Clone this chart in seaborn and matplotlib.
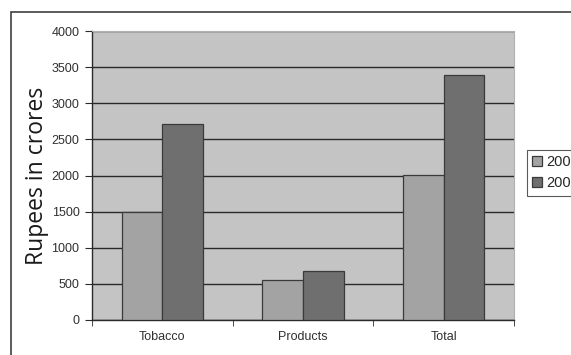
import pandas as pd
import matplotlib.pyplot as plt
import seaborn as sns
from matplotlib.patches import Rectangle

categories = ['Tobacco', 'Products', 'Total']
years = ['2007', '2008']
values_2007 = [1490, 550, 2010]
values_2008 = [2710, 680, 3390]
yticks = [0, 500, 1000, 1500, 2000, 2500, 3000, 3500, 4000]

df = pd.DataFrame({
    'category': categories * 2,
    'year': [years[0]] * 3 + [years[1]] * 3,
    'value': values_2007 + values_2008,
})

sns.set_style('white')
plt.rcParams['font.family'] = ['Liberation Sans', 'DejaVu Sans']

fig = plt.figure(figsize=(5.71, 3.55), dpi=100)
ax = fig.add_axes([92 / 571, 1 - 320 / 355, 422 / 571, 289 / 355])

# outer chart frame (cut off on the right and bottom)
fig.patches.append(Rectangle((11 / 571, -0.1), 1.2, 1 - 12 / 355 + 0.1,
                             transform=fig.transFigure, fill=False,
                             edgecolor='#404040', linewidth=1.2))

sns.barplot(data=df, x='category', y='value', hue='year', ax=ax,
            palette=['#a3a3a3', '#6f6f6f'], width=0.58, gap=0,
            edgecolor='#3a3a3a', linewidth=0.9, saturation=1, zorder=3)

ax.set_facecolor('#c4c4c4')
ax.set_ylim(0, 4000)
ax.set_xlim(-0.5, 2.5)
ax.set_yticks(yticks)
ax.set_yticklabels([str(t) for t in yticks], fontsize=9, color='#303030')
ax.yaxis.grid(True, color='#2a2a2a', linewidth=1.0, zorder=0)
ax.set_axisbelow(True)
ax.set_xticks([0, 1, 2])
ax.set_xticklabels(categories, fontsize=9, color='#303030')
ax.set_xticks([-0.5, 0.5, 1.5, 2.5], minor=True)
ax.tick_params(axis='x', which='major', length=0, pad=8)
ax.tick_params(axis='x', which='minor', length=4, color='#2a2a2a', direction='out', bottom=True)
ax.tick_params(axis='y', length=5, color='#2a2a2a', direction='out', left=True, pad=4)
ax.set_xlabel('')
ax.set_ylabel('Rupees in crores', fontsize=16.5, family=['Open Sans', 'DejaVu Sans'],
              color='#1a1a1a', labelpad=2)

for s in ['top', 'right']:
    ax.spines[s].set_color('#b0b0b0')
    ax.spines[s].set_linewidth(0.8)
for s in ['left', 'bottom']:
    ax.spines[s].set_color('#2a2a2a')
    ax.spines[s].set_linewidth(1.0)

leg = ax.legend(loc='upper left', bbox_to_anchor=(527 / 571, 1 - 150 / 355),
                bbox_transform=fig.transFigure, frameon=True, fontsize=10.5,
                handlelength=0.7, handleheight=0.7, handletextpad=0.3,
                borderpad=0.35, labelspacing=0.5, fancybox=False, borderaxespad=0)
leg.get_frame().set_edgecolor('#303030')
leg.get_frame().set_linewidth(0.8)
for h in leg.legend_handles:
    h.set_edgecolor('#3a3a3a')

fig.savefig('out.png', dpi=100)
